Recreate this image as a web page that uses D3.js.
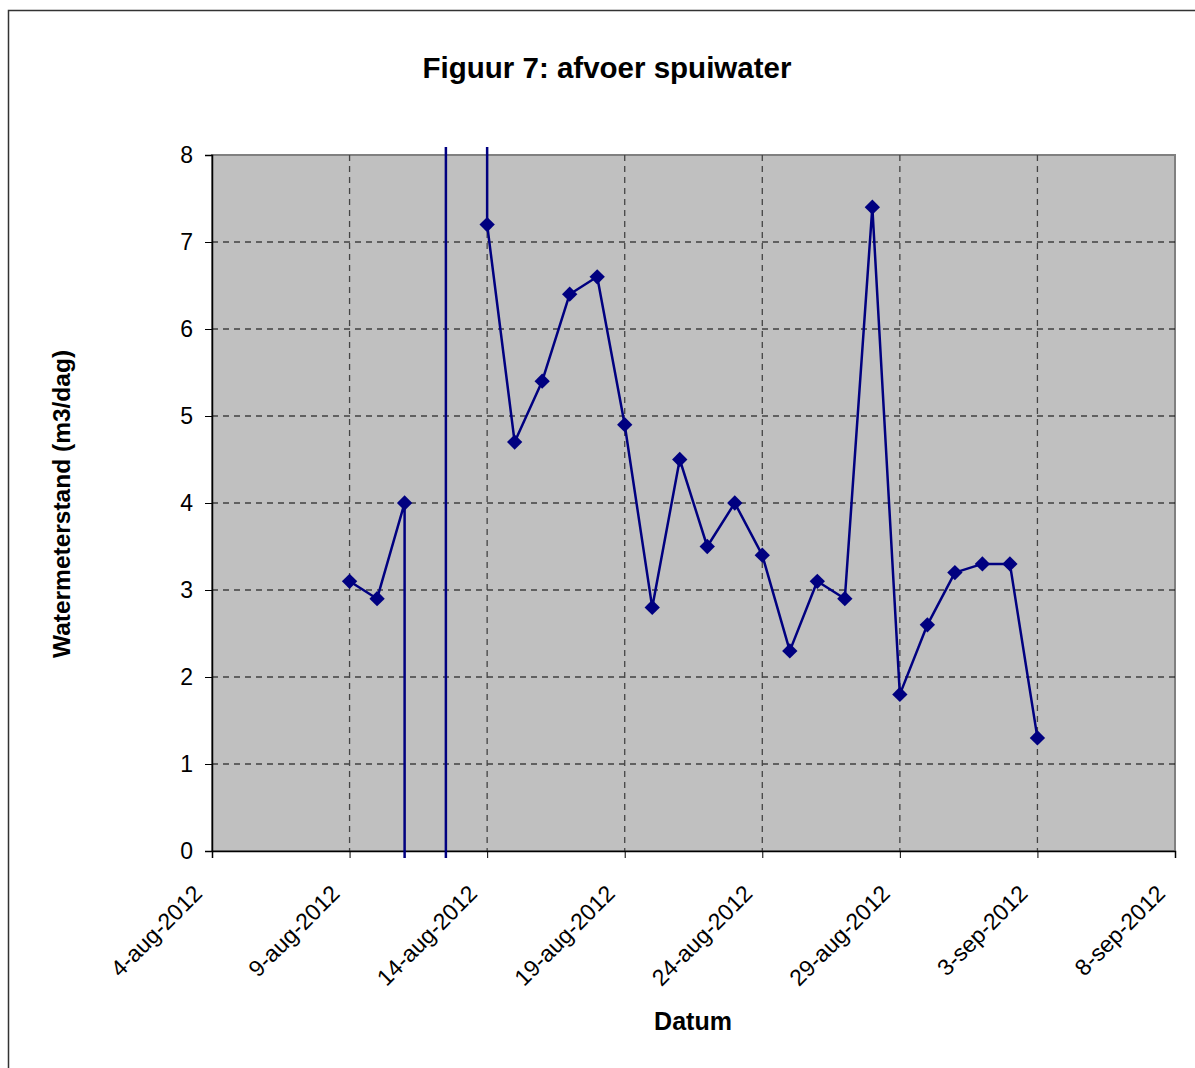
<!DOCTYPE html>
<html>
<head>
<meta charset="utf-8">
<script src="https://cdn.jsdelivr.net/npm/d3@7"></script>
<style>
  html, body { margin: 0; padding: 0; background: #fff; }
  svg { display: block; font-family: Arial, "Liberation Sans", sans-serif; }
</style>
</head>
<body>
<svg id="chart" width="1195" height="1068"></svg>
<script>
// Daily discharge readings (m3/dag); 12 and 13 aug hold meter-reset readings far off scale
const dates = [
  "2012-08-09", "2012-08-10", "2012-08-11", "2012-08-12", "2012-08-13",
  "2012-08-14", "2012-08-15", "2012-08-16", "2012-08-17", "2012-08-18",
  "2012-08-19", "2012-08-20", "2012-08-21", "2012-08-22", "2012-08-23",
  "2012-08-24", "2012-08-25", "2012-08-26", "2012-08-27", "2012-08-28",
  "2012-08-29", "2012-08-30", "2012-08-31", "2012-09-01", "2012-09-02",
  "2012-09-03"
];
const values = [
  3.1, 2.9, 4.0, -5000, 5000,
  7.2, 4.7, 5.4, 6.4, 6.6,
  4.9, 2.8, 4.5, 3.5, 4.0,
  3.4, 2.3, 3.1, 2.9, 7.4,
  1.8, 2.6, 3.2, 3.3, 3.3,
  1.3
];
const xTickDates = ["2012-08-04", "2012-08-09", "2012-08-14", "2012-08-19",
                    "2012-08-24", "2012-08-29", "2012-09-03", "2012-09-08"];
const xTickLabels = ["4-aug-2012", "9-aug-2012", "14-aug-2012", "19-aug-2012",
                     "24-aug-2012", "29-aug-2012", "3-sep-2012", "8-sep-2012"];
const yTicks = [0, 1, 2, 3, 4, 5, 6, 7, 8];

const titleText = "Figuur 7: afvoer spuiwater";
const xTitle = "Datum";
const yTitle = "Watermeterstand (m3/dag)";

const parse = d3.utcParse("%Y-%m-%d");
const data = dates.map((d, i) => ({ date: parse(d), value: values[i] }));

const svg = d3.select("#chart");
const plot = { left: 212, right: 1175, top: 155, bottom: 851 };
const fontFamily = "Arial, 'Liberation Sans', sans-serif";

const x = d3.scaleUtc()
  .domain([parse(xTickDates[0]), parse(xTickDates[xTickDates.length - 1])])
  .range([plot.left, plot.right]);
const y = d3.scaleLinear().domain([0, 8]).range([plot.bottom, plot.top]);

// Outer chart frame
svg.append("rect")
  .attr("x", 8.5).attr("y", 10.5)
  .attr("width", 1200).attr("height", 1100)
  .attr("fill", "#fff").attr("stroke", "#333").attr("stroke-width", 1.5);

// Plot area
svg.append("rect")
  .attr("x", plot.left).attr("y", plot.top)
  .attr("width", plot.right - plot.left).attr("height", plot.bottom - plot.top)
  .attr("fill", "#c0c0c0").attr("stroke", "#808080").attr("stroke-width", 2);

// Gridlines
const grid = svg.append("g");
grid.selectAll("line.h").data(yTicks.slice(1, -1)).join("line")
  .attr("x1", plot.left).attr("x2", plot.right)
  .attr("y1", d => y(d)).attr("y2", d => y(d))
  .attr("stroke", "#000").attr("stroke-width", 1)
  .attr("stroke-dasharray", "6,5");
grid.selectAll("line.v").data(xTickDates.slice(1, -1)).join("line")
  .attr("x1", d => x(parse(d))).attr("x2", d => x(parse(d)))
  .attr("y1", plot.top).attr("y2", plot.bottom)
  .attr("stroke", "#444").attr("stroke-width", 1.3)
  .attr("stroke-dasharray", "6,5");

// Axes
const yAxis = d3.axisLeft(y).tickValues(yTicks).tickSize(7).tickPadding(12)
  .tickFormat(d3.format("d"));
const gy = svg.append("g").attr("transform", `translate(${plot.left},0)`).call(yAxis);
gy.select(".domain").attr("stroke", "#000").attr("stroke-width", 1.5);
gy.selectAll(".tick line").attr("stroke", "#000");
gy.selectAll(".tick text").attr("font-size", 23).attr("fill", "#000")
  .attr("font-family", fontFamily);

const xAxis = d3.axisBottom(x).tickValues(xTickDates.map(parse)).tickSize(7)
  .tickFormat((d, i) => xTickLabels[i]);
const gx = svg.append("g").attr("transform", `translate(0,${plot.bottom})`).call(xAxis);
gx.select(".domain").attr("stroke", "#000").attr("stroke-width", 1.5);
gx.selectAll(".tick line").attr("stroke", "#000");
gx.selectAll(".tick text")
  .attr("font-size", 23).attr("fill", "#000")
  .attr("font-family", fontFamily)
  .attr("text-anchor", "end")
  .attr("dy", null)
  .attr("y", 0)
  .attr("transform", "translate(-9,44) rotate(-45)");

// Series line, clipped a little beyond the plot frame
svg.append("clipPath").attr("id", "clip")
  .append("rect")
  .attr("x", plot.left).attr("y", plot.top - 8)
  .attr("width", plot.right - plot.left).attr("height", plot.bottom - plot.top + 15);

const line = d3.line().x(d => x(d.date)).y(d => y(d.value));
svg.append("path")
  .datum(data)
  .attr("clip-path", "url(#clip)")
  .attr("fill", "none")
  .attr("stroke", "#000080")
  .attr("stroke-width", 2.5)
  .attr("stroke-linejoin", "round")
  .attr("d", line);

// Diamond markers for values inside the axis range
const diamond = d3.symbol().type(d3.symbolDiamond2).size(150);
svg.append("g").selectAll("path")
  .data(data.filter(d => d.value >= 0 && d.value <= 8))
  .join("path")
  .attr("transform", d => `translate(${x(d.date)},${y(d.value)})`)
  .attr("d", diamond)
  .attr("fill", "#000080");

// Titles
svg.append("text")
  .attr("x", 607).attr("y", 78)
  .attr("text-anchor", "middle")
  .attr("font-size", 29.5).attr("font-weight", "bold")
  .text(titleText);

svg.append("text")
  .attr("x", 693).attr("y", 1030)
  .attr("text-anchor", "middle")
  .attr("font-size", 25).attr("font-weight", "bold")
  .text(xTitle);

svg.append("text")
  .attr("transform", "translate(70,504) rotate(-90)")
  .attr("text-anchor", "middle")
  .attr("font-size", 24.5).attr("font-weight", "bold")
  .text(yTitle);
</script>
</body>
</html>
